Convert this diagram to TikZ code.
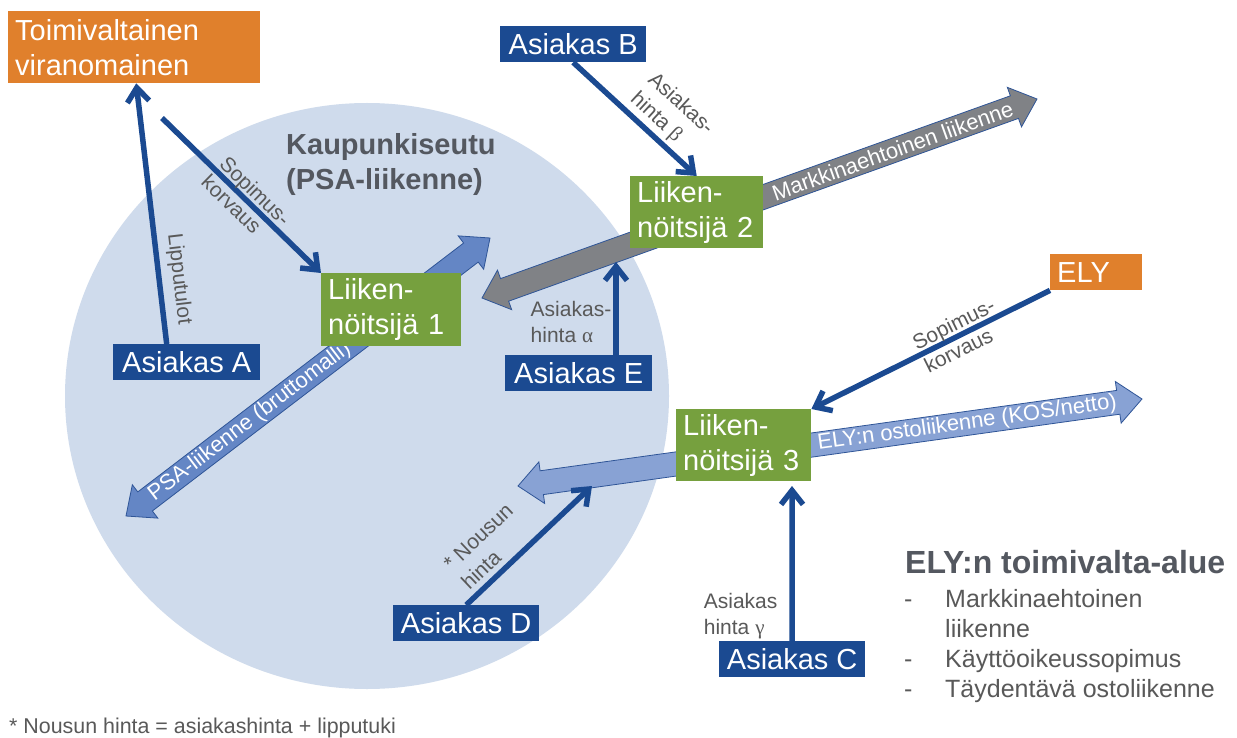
\documentclass[tikz,border=0pt]{standalone}
\usepackage{fontspec}
\setmainfont{Liberation Sans}
\newfontfamily\greekfont{Liberation Serif}
\usepackage {tikz}
\usetikzlibrary {positioning}
\usetikzlibrary{calc,arrows.meta}

\definecolor{orgorange}{RGB}{224,128,44}
\definecolor{custblue}{RGB}{27,74,145}
\definecolor{opgreen}{RGB}{118,160,62}
\definecolor{cityblue}{RGB}{207,219,236}
\definecolor{psablue}{RGB}{100,134,197}
\definecolor{mkgray}{RGB}{128,130,134}
\definecolor{elyblue}{RGB}{136,162,212}
\definecolor{edgeblue}{RGB}{47,85,151}
\definecolor{labelgray}{RGB}{89,89,89}
\definecolor{titlegray}{RGB}{84,88,96}

\tikzstyle{orgbox} = [rectangle, fill=orgorange, text=white, anchor=north west,
    align=left, inner xsep=7pt, inner ysep=0pt, font=\fontsize{29}{35}\selectfont]
\tikzstyle{custbox} = [orgbox, fill=custblue, minimum height=36pt, minimum width=146pt, align=center]
\tikzstyle{opbox} = [orgbox, fill=opgreen, minimum height=72pt]
\tikzstyle{line} = [draw=custblue, line width=5.5pt, -{Straight Barb[length=14pt,width=22pt]}]
\tikzstyle{lbl} = [text=labelgray, font=\fontsize{21}{26}\selectfont, inner sep=3pt]
\tikzstyle{bigarrow} = [draw=edgeblue, line width=0.8pt]
\tikzstyle{arrowtext} = [text=white, font=\fontsize{22}{26}\selectfont, sloped, inner sep=0pt]
\tikzstyle{title} = [text=titlegray, font=\fontsize{29}{35}\selectfont\bfseries, align=left, inner sep=0pt]
\tikzstyle{listtext} = [text=labelgray, font=\fontsize{25}{30}\selectfont, inner sep=0pt]

% fat two-headed arrow between two coordinates
\newcommand{\fatarrow}[3]{%
  \filldraw[#1] (#2) -- ($(#2)!24pt!(#3)!21pt!90:(#3)$) -- ($(#2)!24pt!(#3)!12pt!90:(#3)$)
    -- ($(#3)!24pt!(#2)!12pt!-90:(#2)$) -- ($(#3)!24pt!(#2)!21pt!-90:(#2)$) -- (#3)
    -- ($(#3)!24pt!(#2)!21pt!90:(#2)$) -- ($(#3)!24pt!(#2)!12pt!90:(#2)$)
    -- ($(#2)!24pt!(#3)!12pt!-90:(#3)$) -- ($(#2)!24pt!(#3)!21pt!-90:(#3)$) -- cycle;}

\begin{document}
\begin{tikzpicture}[x=1pt, y=-1pt]
    \fill[white] (0,0) rectangle (1237,738);
    \useasboundingbox (0,0) rectangle (1237,738);
    % city region
    \fill[cityblue] (367,396) ellipse [x radius=302pt, y radius=293pt];

    % traffic arrows
    \coordinate (psaA) at (126,516);
    \coordinate (psaB) at (490,238);
    \coordinate (mkA) at (482,298);
    \coordinate (mkB) at (1037,99);
    \coordinate (elyA) at (518,486);
    \coordinate (elyB) at (1142,399);
    \fatarrow{bigarrow, fill=psablue}{psaA}{psaB}
    \fatarrow{bigarrow, fill=mkgray}{mkA}{mkB}
    \fatarrow{bigarrow, fill=elyblue}{elyA}{elyB}
    \path (psaA) -- node [arrowtext, pos=0.34] (psatxt) {PSA-liikenne (bruttomalli)} (psaB);
    \path (mkA) -- node [arrowtext, pos=0.74] (mktxt) {Markkinaehtoinen liikenne} (mkB);
    \path (elyA) -- node [arrowtext, pos=0.72] (elytxt) {ELY:n ostoliikenne (KOS/netto)} (elyB);

    % Place nodes
    \node [orgbox, text width=238pt, minimum height=72pt] (toim) at (8,11) {Toimivaltainen\\viranomainen};
    \node [orgbox, text width=78pt, minimum height=36pt] (ely) at (1050,254) {ELY};
    \node [custbox, minimum width=147pt] (asA) at (113,344) {Asiakas A};
    \node [custbox] (asB) at (500,26) {Asiakas B};
    \node [custbox] (asC) at (719,641) {Asiakas C};
    \node [custbox] (asD) at (393,605) {Asiakas D};
    \node [custbox, minimum width=147pt] (asE) at (505,355) {Asiakas E};
    \node [opbox, text width=126pt, minimum height=73pt] (liik1) at (321,273) {Liiken-\\nöitsijä 1};
    \node [opbox, text width=119pt] (liik2) at (630,176) {Liiken-\\nöitsijä 2};
    \node [opbox, text width=121pt] (liik3) at (676,409) {Liiken-\\nöitsijä 3};

    \node [title, anchor=north west] (city) at (286,133) {Kaupunkiseutu\\(PSA-liikenne)};
    \node [title, anchor=base west, font=\fontsize{32}{38}\selectfont\bfseries] (elytitle) at (905,573) {ELY:n toimivalta-alue};
    \node [listtext, anchor=base west] (elylist) at (904,607) {\begin{tabular}[t]{@{}p{41pt}@{}l@{}}
        -&Markkinaehtoinen\\ &liikenne\\ -&Käyttöoikeussopimus\\ -&Täydentävä ostoliikenne\end{tabular}};
    \node [lbl, anchor=base west, inner sep=0pt, font=\fontsize{21.4}{26}\selectfont] (note) at (9,733) {* Nousun hinta = asiakashinta + lipputuki};

    % free ends
    \coordinate (sopA) at (162,118);
    \coordinate (cTip) at (792,486);
    \coordinate (dTip) at (592,486);
    \coordinate (eTip) at (616,262);

    % Draw edges
    \path [line] ([xshift=-20pt]asA.north) -- node [lbl, pos=0.24, sloped, above=4pt] (lipp) {Lipputulot} ([xshift=2pt]toim.south);
    \path [line] (sopA) -- node [lbl, pos=0.53, sloped, align=left] (sopk) {Sopimus-\\korvaus} (liik1.north west);
    \path [line] (asB.south) -- node [lbl, pos=0.64, sloped, above, align=left] (hb) {Asiakas-\\hinta {\greekfont β}} (liik2.north);
    \path [line] (ely.south west) -- node [lbl, pos=0.38, sloped, align=left] (sope) {Sopimus-\\korvaus} (liik3.north east);
    \path [line] (asC.north) -- node [lbl, pos=0.16, left=10pt, inner sep=2pt, align=left] (hc) {Asiakas\\hinta {\greekfont γ}} (cTip);
    \path [line] (asD.north) -- node [lbl, pos=0.32, sloped, above=2pt, align=left] (hd) {* Nousun\\hinta} (dTip);
    \path [line] (asE.north -| eTip) -- node [lbl, pos=0.35, left, inner sep=2pt, align=left] (he) {Asiakas-\\hinta {\greekfont α}} (eTip);
\end{tikzpicture}
\end{document}
